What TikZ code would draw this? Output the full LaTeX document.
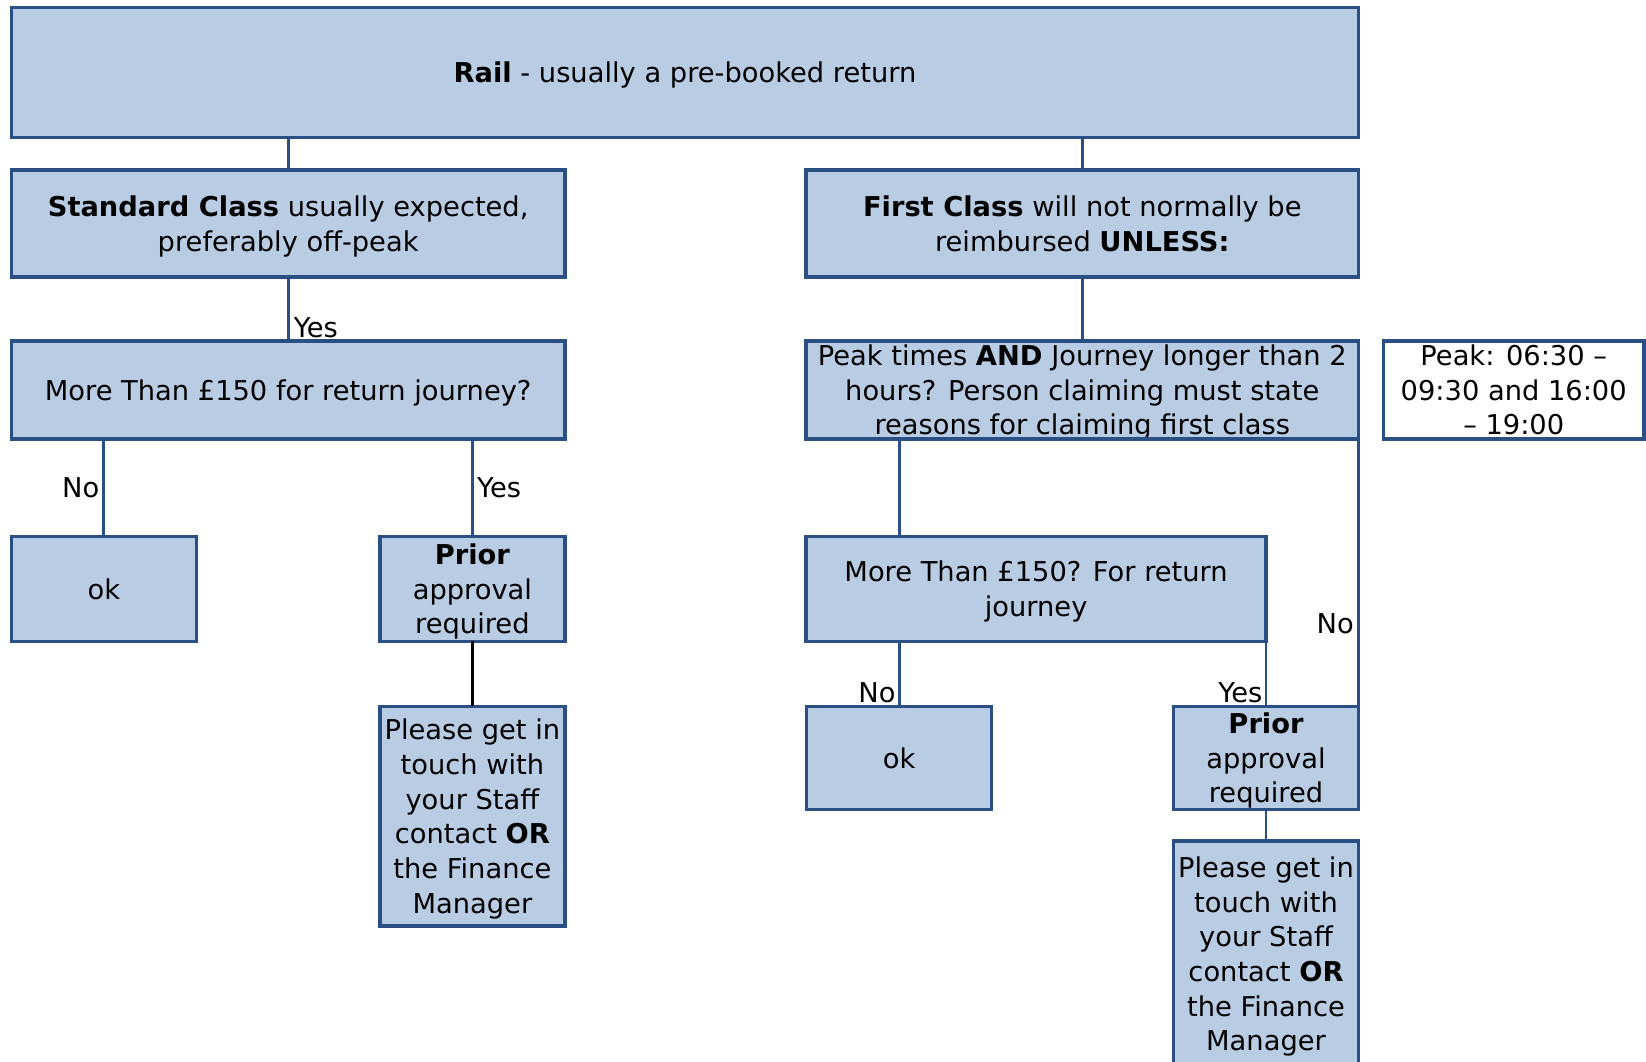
\documentclass[tikz,border=0pt]{standalone}
\usepackage{fontspec}
\setmainfont{DejaVu Sans}
\definecolor{boxfill}{HTML}{B8CCE4}
\definecolor{boxline}{HTML}{2A4F85}
\tikzset{
  box/.style={draw=boxline, fill=boxfill, line width=3.3pt, inner sep=0pt, outer sep=0pt,
    align=center, text depth=-1pt, font=\fontsize{26}{33}\selectfont},
  whitebox/.style={box, fill=white},
  conn/.style={draw=boxline, line width=2.8pt},
  blackconn/.style={draw=black, line width=2.8pt},
  lbl/.style={font=\fontsize{26}{33}\selectfont, inner sep=3pt}
}
\begin{document}
\begin{tikzpicture}[x=1pt,y=-1pt]
\useasboundingbox (0,0) rectangle (1568,1011);
% boxes
\node[box, minimum width=1283pt, minimum height=124pt] (rail) at (652.5,69) {\textbf{Rail} - usually a pre-booked return};
\node[box, minimum width=527pt, minimum height=102pt] (std) at (274.5,213) {\textbf{Standard Class} usually expected,\\preferably off-peak};
\node[box, minimum width=526pt, minimum height=102pt] (first) at (1031,213) {\textbf{First Class} will not normally be\\reimbursed \textbf{UNLESS:}};
\node[box, minimum width=527pt, minimum height=93pt] (more1) at (274.5,371.5) {More Than £150 for return journey?};
\node[box, minimum width=526pt, minimum height=93pt] (peakq) at (1031,371.5) {Peak times \textbf{AND} Journey longer than 2\\hours? Person claiming must state\\reasons for claiming first class};
\draw[boxline, line width=3.3pt] (peakq.south west) rectangle (peakq.north east);
\node[whitebox, minimum width=248pt, minimum height=93pt] (peakinfo) at (1442,371.5) {Peak: 06:30 –\\09:30 and 16:00\\– 19:00};
\node[box, minimum width=176pt, minimum height=100pt] (ok1) at (99,561) {ok};
\node[box, minimum width=176pt, minimum height=100pt] (prior1) at (450,561) {\textbf{Prior}\\approval\\required};
\node[box, minimum width=176pt, minimum height=209pt] (please1) at (450,777.5) {Please get in\\touch with\\your Staff\\contact \textbf{OR}\\the Finance\\Manager};
\node[box, minimum width=438pt, minimum height=100pt] (more2) at (987,561) {More Than £150? For return\\journey};
\node[box, minimum width=176pt, minimum height=98pt] (ok2) at (856.5,722) {ok};
\node[box, minimum width=176pt, minimum height=98pt] (prior2) at (1206,722) {\textbf{Prior}\\approval\\required};
\node[box, minimum width=176pt, minimum height=215pt] (please2) at (1206,908.5) {Please get in\\touch with\\your Staff\\contact \textbf{OR}\\the Finance\\Manager};
% connectors
\draw[conn] (std.north |- rail.south) -- (std.north);
\draw[conn] (first.north |- rail.south) -- (first.north);
\draw[conn] (std.south) -- (more1.north) node[lbl, pos=1, anchor=south west, inner sep=2pt, xshift=2pt] {Yes};
\draw[conn] (first.south) -- (peakq.north);
\draw[conn] (ok1.north |- more1.south) -- (ok1.north) node[lbl, midway, anchor=east] {No};
\draw[conn] (prior1.north |- more1.south) -- (prior1.north) node[lbl, midway, anchor=west] {Yes};
\draw[blackconn] (prior1.south) -- (please1.north);
\draw[conn] (ok2.north |- peakq.south) -- (ok2.north |- more2.north);
\draw[conn] (ok2.north |- more2.south) -- (ok2.north) node[lbl, pos=1, anchor=south east, inner sep=2pt] {No};
\draw[conn] (prior2.north |- more2.south) -- (prior2.north) node[lbl, pos=1, anchor=south east, inner sep=2pt] {Yes};
\draw[conn] (peakq.south east) -- (prior2.north east) node[lbl, pos=0.69, anchor=east] {No};
\draw[conn] (prior2.south) -- (please2.north);
\end{tikzpicture}
\end{document}
